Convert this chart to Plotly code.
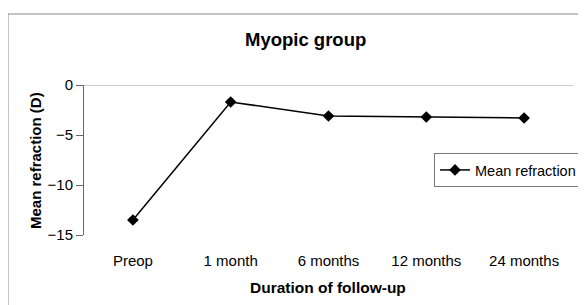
import plotly.graph_objects as go

categories = ["Preop", "1 month", "6 months", "12 months", "24 months"]
mean_refraction = [-13.5, -1.7, -3.1, -3.2, -3.3]
y_ticks = [0, -5, -10, -15]

W, H = 586, 305
OFF = 8  # page body margin
# plot area in window pixels: x 84..573, y 85..235
L, T = 84 - OFF, 85 - OFF
R, B = W - (573 - OFF), H - (235 - OFF)
pw, ph = W - L - R, H - T - B

def px(x):  # window pixel -> paper
    return (x - OFF - L) / pw

def py(y):
    return (H - B - (y - OFF)) / ph

font = "Liberation Sans, Arial, sans-serif"

fig = go.Figure()
fig.add_trace(go.Scatter(
    x=categories, y=mean_refraction, mode="lines+markers",
    name="Mean refraction",
    line=dict(color="black", width=1.5),
    marker=dict(symbol="diamond", size=9, color="black"),
))

fig.update_layout(
    width=W, height=H,
    margin=dict(l=L, r=R, t=T, b=B, autoexpand=False),
    paper_bgcolor="white", plot_bgcolor="white",
    font=dict(family=font, size=15, color="black"),
    showlegend=True,
    legend=dict(xref="container", yref="container",
                x=(434 - OFF) / W, y=1 - (153 - OFF) / H,
                xanchor="left", yanchor="top",
                bordercolor="#777", borderwidth=1, bgcolor="white",
                font=dict(size=14.5), itemwidth=30),
    xaxis=dict(type="category", range=[-0.5, 4.5], showgrid=False,
               showline=False, zeroline=False, ticks="",
               tickfont=dict(size=15), ticklabelstandoff=15),
    yaxis=dict(range=[-15, 0], tickvals=y_ticks, showgrid=False,
               zeroline=False, showline=True, linecolor="#666", linewidth=1,
               ticks="outside", ticklen=7, tickcolor="#666",
               tickfont=dict(size=15)),
    shapes=[
        dict(type="line", xref="paper", yref="y", x0=0, x1=1, y0=0, y1=0,
             line=dict(color="#999", width=1)),
        dict(type="rect", xref="paper", yref="paper",
             x0=px(8), x1=px(620), y0=py(14), y1=py(330),
             line=dict(color="#888", width=1)),
    ],
    annotations=[
        dict(text="<b>Myopic group</b>", xref="paper", yref="paper",
             x=px(305), y=py(40), showarrow=False, font=dict(size=18.5),
             xanchor="center", yanchor="middle"),
        dict(text="<b>Duration of follow-up</b>", xref="paper", yref="paper",
             x=px(328), y=py(287), showarrow=False, font=dict(size=15.5),
             xanchor="center", yanchor="middle"),
        dict(text="<b>Mean refraction (D)</b>", xref="paper", yref="paper",
             x=px(35), y=py(161), showarrow=False, font=dict(size=15),
             textangle=-90, xanchor="center", yanchor="middle"),
    ],
)

fig.write_html("out.html")
